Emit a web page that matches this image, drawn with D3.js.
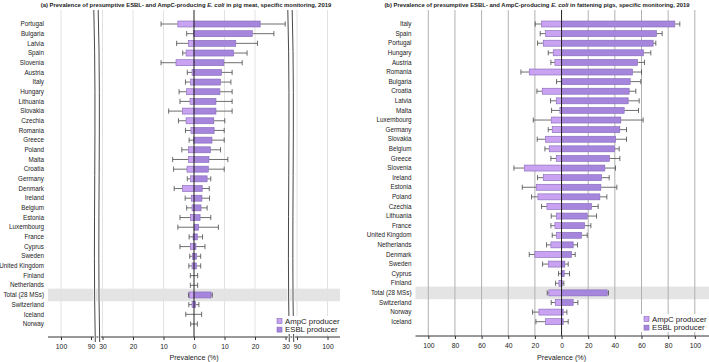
<!DOCTYPE html>
<html><head><meta charset="utf-8">
<script src="https://cdn.jsdelivr.net/npm/d3@7"></script>
<style>
body{margin:0;background:#fff;}
svg{display:block;font-family:"Liberation Sans",Arial,sans-serif;}
</style></head>
<body><svg id="c" width="709" height="362"></svg>
<script>
// ---- Panel (a): pig meat ----
const countriesA = ["Portugal","Bulgaria","Latvia","Spain","Slovenia","Austria","Italy","Hungary","Lithuania","Slovakia","Czechia","Romania","Greece","Poland","Malta","Croatia","Germany","Denmark","Ireland","Belgium","Estonia","Luxembourg","France","Cyprus","Sweden","United Kingdom","Finland","Netherlands","Total (28 MSs)","Switzerland","Iceland","Norway"];
const ampcA    = [5.3,0.2,1.8,2.6,5.9,0.65,1.1,2.4,1.3,3.8,2.6,1.0,0.1,1.8,1.8,2.3,1.1,3.8,0.9,0.65,1.2,0,0.3,1.2,0.5,0.65,0,0,1.5,0.65,0,0];
const ampcAci  = [10.8,2.4,5.7,3.7,10.8,2.2,2.8,4.9,4.6,8.3,5.1,2.8,1.6,4.0,7.0,6.7,2.2,6.5,2.9,2.4,4.6,5.3,1.6,4.6,1.4,1.7,1.2,1.2,1.8,1.7,2.7,1.1];
const esblA    = [21.7,19.1,13.7,13.0,9.8,9.0,8.7,8.5,7.2,7.2,6.5,6.6,5.9,5.4,4.9,4.7,4.3,2.7,2.6,2.3,2.0,1.5,1.1,0.65,0.8,0.8,0,0,5.6,0.55,0,0];
const esblAci  = [29.9,26.2,20.8,17.4,15.8,12.5,12.1,12.5,12.5,12.5,10.1,9.9,9.9,8.7,11.1,9.9,5.5,5.0,5.1,4.3,5.5,8.0,2.8,3.6,2.2,2.2,1.2,1.2,6.0,1.6,2.5,1.1];
const ticksA = [-100,-90,-30,-20,-10,0,10,20,30,90,100];

// ---- Panel (b): fattening pigs ----
const countriesB = ["Italy","Spain","Portugal","Hungary","Austria","Romania","Bulgaria","Croatia","Latvia","Malta","Luxembourg","Germany","Slovakia","Belgium","Greece","Slovenia","Ireland","Estonia","Poland","Czechia","Lithuania","France","United Kingdom","Netherlands","Denmark","Sweden","Cyprus","Finland","Total (28 MSs)","Switzerland","Norway","Iceland"];
const ampcB    = [15,12,13.75,6.25,5,24.25,0.3,14.5,4,1.25,7.75,7,12,9.25,4,28,13.75,19,17.75,11,3.75,5,3.75,8,20,10,0.3,2,9.5,4.75,17,12];
const ampcBci  = [19.75,16,18,10,8,30.5,3.75,18.5,8.25,7.5,21.25,10,18.25,12.5,8,35.75,18,29.5,22.5,15,7.75,8,7,11.25,24.25,14.25,2.25,4.5,10.75,7.75,21.75,19.25];
const esblB    = [85,71.25,68.75,61.5,57,53.25,51.5,50.75,50,47,44.5,43.75,40.5,39.75,36,32.5,30,29.5,28.75,22.5,19.25,17.25,15,8.75,7.5,2.5,2,0.5,34.25,8.75,1.25,1.25];
const esblBci  = [88.75,75.5,70.75,67,62.25,60,59.5,55.75,58.25,57.75,61.25,48.75,48.75,43.25,43.75,40.5,35.75,41.5,34,27.5,26.25,22,19.25,12,10.25,5,6,1.75,35.25,12.25,4,5];
const ticksB = [-100,-80,-60,-40,-20,0,20,40,60,80,100];

const legendLabels = ["AmpC producer","ESBL producer"];
const titleA = ["(a) Prevalence of presumptive ESBL- and AmpC-producing ","E. coli"," in pig meat, specific monitoring, 2019"];
const titleB = ["(b) Prevalence of presumptive ESBL- and AmpC-producing ","E. coli"," in fattening pigs, specific monitoring, 2019"];

const AMPC = "#c9a3f2", ESBL = "#a686dd", EDGE = "#8466b8";
const svg = d3.select("#c");

function panel(o){
  const g = svg.append("g");
  const x = o.x, y = o.y;
  // total band
  const ty = y("Total (28 MSs)");
  g.append("rect").attr("x", o.bandX0).attr("width", o.bandX1 - o.bandX0)
    .attr("y", ty - 6.3).attr("height", 12.6).attr("fill", "#e4e4e4");
  // gridlines
  g.selectAll("line.grid").data(o.ticks.filter(t => t !== 0 && (o.gridSkip||[]).indexOf(t) < 0)).join("line")
    .attr("x1", d => x(d)).attr("x2", d => x(d)).attr("y1", 10).attr("y2", o.axisY)
    .attr("stroke", o.gridColor).attr("stroke-width", 1);
  // error bars
  const eb = g.append("g").attr("stroke", "#4a4a4a").attr("stroke-width", 0.8);
  o.countries.forEach((c, i) => {
    const yy = y(c);
    [[-o.ampc[i], -o.ampcCi[i]], [o.esbl[i], o.esblCi[i]]].forEach(([v, ci]) => {
      eb.append("line").attr("x1", x(v)).attr("x2", x(ci)).attr("y1", yy).attr("y2", yy);
      eb.append("line").attr("x1", x(ci)).attr("x2", x(ci)).attr("y1", yy - 2.6).attr("y2", yy + 2.6);
    });
  });
  // bars
  g.selectAll("rect.ampc").data(o.countries).join("rect")
    .attr("x", (d, i) => x(-o.ampc[i])).attr("width", (d, i) => x(0) - x(-o.ampc[i]))
    .attr("y", d => y(d) - 3).attr("height", 6)
    .attr("fill", AMPC).attr("stroke", EDGE).attr("stroke-width", 0.6);
  g.selectAll("rect.esbl").data(o.countries).join("rect")
    .attr("x", x(0)).attr("width", (d, i) => x(o.esbl[i]) - x(0))
    .attr("y", d => y(d) - 3).attr("height", 6)
    .attr("fill", ESBL).attr("stroke", EDGE).attr("stroke-width", 0.6);
  // zero line
  g.append("line").attr("x1", x(0)).attr("x2", x(0)).attr("y1", 10).attr("y2", o.axisY)
    .attr("stroke", "#222").attr("stroke-width", 1);
  // category labels
  g.selectAll("text.cat").data(o.countries).join("text")
    .attr("x", o.labelX).attr("y", d => y(d)).attr("dy", "0.35em")
    .attr("text-anchor", "end").attr("font-size", 6.3).attr("fill", "#222").text(d => d);
  // axis
  const ax = d3.axisBottom(x).tickValues(o.ticks).tickSize(3).tickPadding(4)
    .tickFormat(d => Math.abs(d));
  const axg = g.append("g").attr("transform", `translate(0,${o.axisY})`).call(ax);
  axg.select(".domain").remove();
  axg.selectAll(".tick line").attr("stroke", "#333");
  axg.selectAll(".tick text").attr("font-size", 6.8).attr("fill", "#222")
    .attr("font-family", '"Liberation Sans",Arial,sans-serif');
  g.append("line").attr("x1", o.bandX0).attr("x2", o.bandX1).attr("y1", o.axisY).attr("y2", o.axisY)
    .attr("stroke", "#333").attr("stroke-width", 1);
  g.append("text").attr("x", x(0)).attr("y", 360).attr("text-anchor", "middle")
    .attr("font-size", 7.2).attr("fill", "#222").text("Prevalence (%)");
  // title
  const t = g.append("text").attr("x", o.titleX).attr("y", 6.5).attr("text-anchor", "middle")
    .attr("font-size", 5.9).attr("font-weight", "bold").attr("fill", "#222");
  o.title.forEach((s, i) => t.append("tspan").attr("font-style", i === 1 ? "italic" : "normal").text(s));
  // breaks
  (o.breaks || []).forEach(bx => {
    [-2.2, 2.2].forEach(off => {
      const p = d3.path();
      p.moveTo(bx + off - 1, 10);
      p.bezierCurveTo(bx + off + 2, 120, bx + off - 2, 230, bx + off + 0.5, o.axisY + 5);
      g.append("path").attr("d", p.toString()).attr("fill", "none").attr("stroke", "#fff").attr("stroke-width", 2.4);
      g.append("path").attr("d", p.toString()).attr("fill", "none").attr("stroke", "#333").attr("stroke-width", 0.9);
    });
  });
  // legend
  const lg = g.append("g");
  lg.append("rect").attr("x", o.legX - 3).attr("y", o.legY - 5).attr("width", 62).attr("height", 18).attr("fill", "#fff");
  legendLabels.forEach((l, i) => {
    lg.append("rect").attr("x", o.legX).attr("y", o.legY - 2.5 + i * 8.6).attr("width", 5).attr("height", 5)
      .attr("fill", i === 0 ? AMPC : ESBL).attr("stroke", EDGE).attr("stroke-width", 0.6);
    lg.append("text").attr("x", o.legX + 8).attr("y", o.legY + i * 8.6).attr("dy", "0.35em")
      .attr("font-size", 7.8).attr("fill", "#222").text(l);
  });
}

panel({
  countries: countriesA, ampc: ampcA, ampcCi: ampcAci, esbl: esblA, esblCi: esblAci, ticks: ticksA,
  x: d3.scaleLinear().domain([-100, -90, -30, 30, 90, 100]).range([61, 91, 102.5, 285.5, 297, 327.5]),
  y: d3.scalePoint().domain(countriesA).range([24, 324]),
  axisY: 337, bandX0: 48, bandX1: 340, labelX: 44, gridColor: "#e2e2e2", gridSkip: [-90, 30],
  titleX: 186, title: titleA, breaks: [97, 291], legX: 277, legY: 321
});
panel({
  countries: countriesB, ampc: ampcB, ampcCi: ampcBci, esbl: esblB, esblCi: esblBci, ticks: ticksB,
  x: d3.scaleLinear().domain([-100, 100]).range([428.3, 694.8]),
  y: d3.scalePoint().domain(countriesB).range([24, 321.7]),
  axisY: 336, bandX0: 415.5, bandX1: 709, labelX: 411.5, gridColor: "#b0b0b0",
  titleX: 537, title: titleB, breaks: [], legX: 644, legY: 319
});
</script></body></html>
